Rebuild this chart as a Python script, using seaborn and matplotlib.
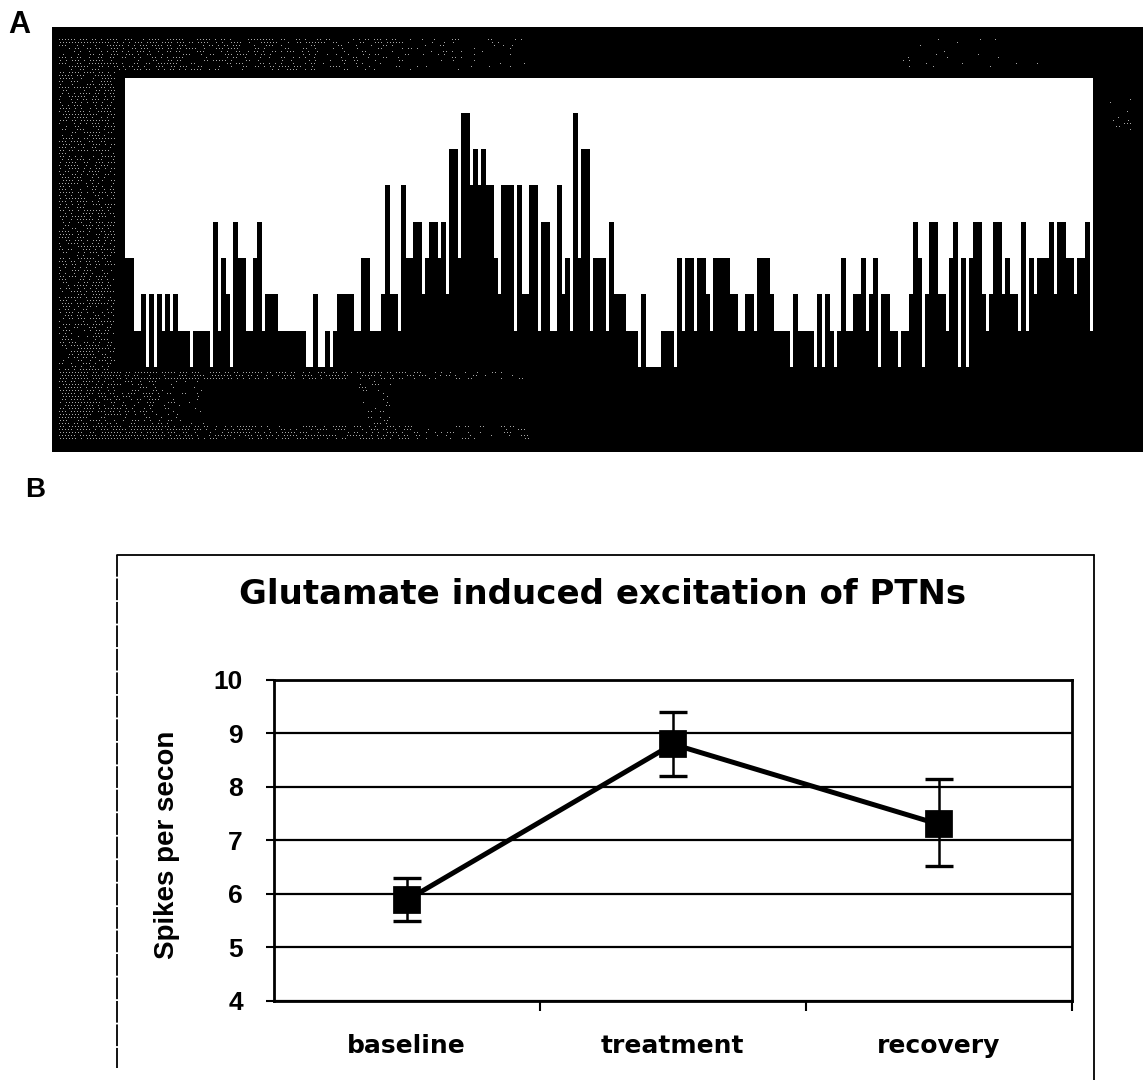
import numpy as np
import pandas as pd
import matplotlib
matplotlib.use("Agg")
import matplotlib.pyplot as plt
from matplotlib.lines import Line2D
import seaborn as sns

# Panel A: spike counts per time bin
spike_counts = [
    3,3,1,1,2,0,2,0,2,1,2,1,2,1,1,1,0,1,1,1,1,0,4,1,3,2,0,4,3,3,
    1,1,3,4,1,2,2,2,1,1,1,1,1,1,1,0,0,2,0,0,1,0,1,2,2,2,2,1,1,3,
    3,1,1,1,2,5,2,2,1,5,3,3,4,4,2,3,4,4,3,4,2,6,6,3,7,7,5,6,5,6,
    5,5,3,2,5,5,5,1,5,2,2,5,5,1,4,4,1,1,5,2,3,1,7,3,6,6,1,3,3,3,
    1,4,2,2,2,1,1,1,0,2,0,0,0,0,1,1,1,0,3,1,3,3,1,3,3,2,1,3,3,3,
    3,2,2,1,1,2,2,1,3,3,3,2,1,1,1,1,0,2,1,1,1,1,0,2,0,2,1,0,1,3,
    1,1,2,2,3,1,2,3,0,2,2,1,1,0,1,1,2,4,3,0,2,4,4,2,2,1,3,4,0,3,
    0,3,4,4,2,1,2,4,4,2,3,2,2,1,4,1,3,2,3,3,3,4,2,4,4,3,3,2,3,3,
    4,1,
]
bin_index = list(range(len(spike_counts)))

# Panel B: spikes per second
conditions = ["baseline", "treatment", "recovery"]
mean_rate = [5.88, 8.8, 7.3]
err_low = [0.39, 0.6, 0.78]
err_high = [0.42, 0.6, 0.85]
y_ticks = [4, 5, 6, 7, 8, 9, 10]

TITLE = "Glutamate induced excitation of PTNs"
Y_LABEL = "Spikes per secon"

W, H = 1143, 1080
sns.set_theme(style="white")
plt.rcParams["font.family"] = ["Liberation Sans", "DejaVu Sans"]


def box(l, t, r, b):
    return [l / W, 1 - b / H, (r - l) / W, (b - t) / H]


fig = plt.figure(figsize=(W / 100, H / 100), dpi=100, facecolor="white")

# Scanned frame of panel A: black with halftone speckle (decoration, not data)
bx0, by0, bx1, by1 = 52, 27, 1143, 452
yy, xx = np.mgrid[by0:by1, bx0:bx1]
lattice = (yy % 3 == 0) & ((xx + (yy // 3) % 2) % 3 == 0)
speckle = np.modf(np.sin(xx * 12.9898 + yy * 78.233) * 43758.5453)[0] % 1.0


def add(dens, mask, value):
    dens[mask] = np.maximum(dens[mask], value[mask] if isinstance(value, np.ndarray) else value)


dens = np.zeros(xx.shape)
add(dens, (yy >= 38) & (yy < 72) & (xx >= 58) & (xx < 535), np.clip(0.62 * (1 - (xx - 58) / 490), 0, 1))
add(dens, (yy >= 38) & (yy < 44) & (xx >= 58) & (xx < 535), np.clip(0.85 * (1 - (xx - 58) / 600), 0, 1))
add(dens, (yy >= 66) & (yy < 72) & (xx >= 58) & (xx < 320), 0.5)
add(dens, (xx >= 58) & (xx < 116) & (yy >= 38) & (yy < 440), 0.55)
add(dens, (yy >= 372) & (yy < 381) & (xx >= 58) & (xx < 525), np.clip(0.9 * (1 - (xx - 58) / 620), 0, 1))
add(dens, (yy >= 381) & (yy < 432) & (xx >= 58) & (xx < 205), np.clip(0.8 * (1 - (xx - 58) / 170), 0, 1))
add(dens, (yy >= 425) & (yy < 440) & (xx >= 58) & (xx < 540), np.clip(0.9 * (1 - (xx - 58) / 600), 0, 1))
add(dens, (yy >= 376) & (yy < 440) & (xx >= 355 + (yy - 376) * 0.3) & (xx < 392), 0.22)
add(dens, (yy >= 38) & (yy < 72) & (xx >= 900) & (xx < 1040), 0.06)
add(dens, (yy >= 92) & (yy < 130) & (xx >= 1108) & (xx < 1140), 0.10)
dither = np.where(lattice & (speckle < dens), 0.65, 0.0)

ax_bg = fig.add_axes(box(bx0, by0, bx1, by1))
ax_bg.imshow(dither, cmap="gray", vmin=0, vmax=1, aspect="auto", interpolation="nearest")
ax_bg.axis("off")

# Panel A histogram
ax_a = fig.add_axes(box(125, 78, 1093, 367), facecolor="white")
sns.barplot(x=bin_index, y=spike_counts, color="black", saturation=1, width=1.25,
            errorbar=None, linewidth=0, ax=ax_a)
ax_a.set_xlim(-0.5, len(spike_counts) - 0.5)
ax_a.set_ylim(0, 7.96)
ax_a.set_xticks([])
ax_a.set_yticks([])
ax_a.set_xlabel("")
ax_a.set_ylabel("")
sns.despine(ax=ax_a, left=True, bottom=True)

# Panel labels
fig.text(8 / W, 1 - 33 / H, "A", fontsize=22, fontweight="bold", ha="left", va="baseline", color="black")
fig.text(25 / W, 1 - 497 / H, "B", fontsize=20, fontweight="bold", ha="left", va="baseline", color="black")

# Panel B chart-area outline
ol = dict(color="black", lw=1.3, transform=fig.transFigure)
fig.add_artist(Line2D([117 / W, 117 / W], [1 - 555 / H, 1 - 1068 / H], ls=(0, (12, 1)), **ol))
fig.add_artist(Line2D([117 / W, 1094 / W], [1 - 555 / H, 1 - 555 / H], **ol))
fig.add_artist(Line2D([1094 / W, 1094 / W], [1 - 555 / H, 1 - 1080 / H], **ol))

# Panel B line chart
ax_b = fig.add_axes(box(273.5, 680, 1072, 1000.7), facecolor="white")
ax_b.yaxis.grid(True, color="black", lw=1.6, zorder=0)
ax_b.xaxis.grid(False)
ax_b.set_axisbelow(True)
sns.pointplot(x=conditions, y=mean_rate, color="black", markers="s", markersize=17,
              linewidth=3.6, errorbar=None, ax=ax_b)
ax_b.errorbar(range(len(conditions)), mean_rate, yerr=[err_low, err_high], fmt="none",
              ecolor="black", elinewidth=1.8, capsize=10, capthick=2.4, zorder=5)
ax_b.set_xlim(-0.5, 2.5)
ax_b.set_ylim(4, 10)
ax_b.set_yticks(y_ticks)
ax_b.set_yticklabels([str(t) for t in y_ticks], fontsize=19, fontweight="bold", color="black")
ax_b.set_xticks([0.5, 1.5, 2.5])
ax_b.set_xticklabels([])
ax_b.set_xticks([0, 1, 2], minor=True)
ax_b.set_xticklabels(conditions, minor=True, fontsize=18, fontweight="bold", color="black",
                     family="DejaVu Sans")
ax_b.tick_params(axis="x", which="major", length=7, width=1.5, color="black", direction="out", bottom=True)
ax_b.tick_params(axis="x", which="minor", length=0, pad=24, bottom=False)
ax_b.tick_params(axis="y", length=6, width=1.5, color="black", direction="out", pad=16, left=True)
ax_b.set_xlabel("")
ax_b.set_ylabel("")
for s in ax_b.spines.values():
    s.set_visible(True)
    s.set_color("black")
    s.set_linewidth(2.0)

fig.text(602.5 / W, 1 - 594 / H, TITLE, fontsize=24.5, fontweight="bold", family="DejaVu Sans",
         ha="center", va="center", color="black")
fig.text(167 / W, 1 - 845 / H, Y_LABEL, fontsize=20, fontweight="bold", rotation=90,
         ha="center", va="center", color="black")

fig.savefig("out.png", dpi=100, facecolor="white")
